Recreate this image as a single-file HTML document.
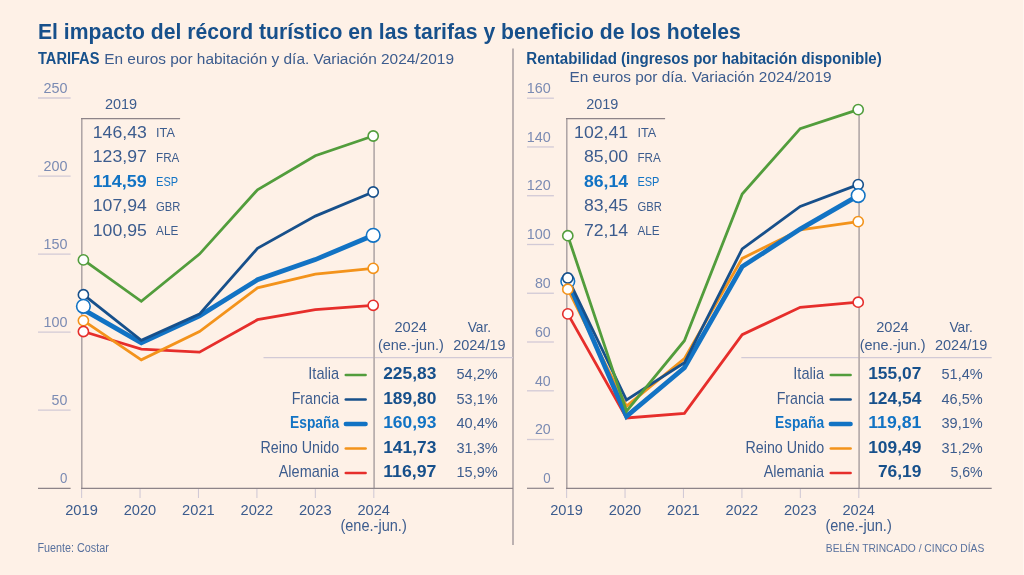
<!DOCTYPE html>
<html lang="es">
<head>
<meta charset="utf-8">
<title>El impacto del récord turístico en las tarifas y beneficio de los hoteles</title>
<style>
html,body{margin:0;padding:0;background:#fef1e7;}
body{width:1024px;height:575px;overflow:hidden;}
svg{display:block;font-family:"Liberation Sans",sans-serif;}
</style>
</head>
<body>
<svg width="1024" height="575" viewBox="0 0 1024 575">
<rect x="0" y="0" width="1024" height="575" fill="#fef1e7"/>
<rect x="1023" y="0" width="1" height="575" fill="#fff6f0"/>
<text x="38" y="38.7" font-size="22.3" fill="#17508b" font-weight="bold" textLength="702.8" lengthAdjust="spacingAndGlyphs">El impacto del récord turístico en las tarifas y beneficio de los hoteles</text>
<text x="38" y="63.5" font-size="15.6" fill="#17508b" font-weight="bold" textLength="61.4" lengthAdjust="spacingAndGlyphs">TARIFAS</text>
<text x="104.2" y="63.5" font-size="15.3" fill="#3c5c8e" textLength="349.8" lengthAdjust="spacingAndGlyphs">En euros por habitación y día. Variación 2024/2019</text>
<text x="526.3" y="63.5" font-size="15.6" fill="#17508b" font-weight="bold" textLength="355.5" lengthAdjust="spacingAndGlyphs">Rentabilidad (ingresos por habitación disponible)</text>
<text x="569.5" y="82.3" font-size="15.3" fill="#3c5c8e" textLength="262" lengthAdjust="spacingAndGlyphs">En euros por día. Variación 2024/2019</text>
<line x1="513" y1="48.6" x2="513" y2="545" stroke="#989094" stroke-width="1.3"/>
<line x1="38" y1="98" x2="70.6" y2="98" stroke="#d2cad6" stroke-width="1.3"/>
<text x="67.4" y="92.7" font-size="13.8" fill="#7b8bb3" text-anchor="end" textLength="24.0" lengthAdjust="spacingAndGlyphs">250</text>
<line x1="38" y1="176.05" x2="70.6" y2="176.05" stroke="#d2cad6" stroke-width="1.3"/>
<text x="67.4" y="170.75" font-size="13.8" fill="#7b8bb3" text-anchor="end" textLength="24.0" lengthAdjust="spacingAndGlyphs">200</text>
<line x1="38" y1="254.1" x2="70.6" y2="254.1" stroke="#d2cad6" stroke-width="1.3"/>
<text x="67.4" y="248.8" font-size="13.8" fill="#7b8bb3" text-anchor="end" textLength="24.0" lengthAdjust="spacingAndGlyphs">150</text>
<line x1="38" y1="332.15" x2="70.6" y2="332.15" stroke="#d2cad6" stroke-width="1.3"/>
<text x="67.4" y="326.85" font-size="13.8" fill="#7b8bb3" text-anchor="end" textLength="24.0" lengthAdjust="spacingAndGlyphs">100</text>
<line x1="38" y1="410.2" x2="70.6" y2="410.2" stroke="#d2cad6" stroke-width="1.3"/>
<text x="67.4" y="404.9" font-size="13.8" fill="#7b8bb3" text-anchor="end" textLength="15.8" lengthAdjust="spacingAndGlyphs">50</text>
<line x1="38" y1="488.3" x2="70.6" y2="488.3" stroke="#8d8489" stroke-width="1.2"/>
<text x="67.4" y="483.0" font-size="13.8" fill="#7b8bb3" text-anchor="end" textLength="7.4" lengthAdjust="spacingAndGlyphs">0</text>
<line x1="263.5" y1="357.6" x2="513" y2="357.6" stroke="#d2cad6" stroke-width="1.1"/>
<line x1="81.6" y1="488.3" x2="81.6" y2="498" stroke="#d2cad6" stroke-width="1.1"/>
<text x="81.5" y="514.8" font-size="15.3" fill="#3c5c8e" text-anchor="middle" textLength="32.6" lengthAdjust="spacingAndGlyphs">2019</text>
<line x1="140.04" y1="488.3" x2="140.04" y2="498" stroke="#d2cad6" stroke-width="1.1"/>
<text x="139.94" y="514.8" font-size="15.3" fill="#3c5c8e" text-anchor="middle" textLength="32.6" lengthAdjust="spacingAndGlyphs">2020</text>
<line x1="198.48" y1="488.3" x2="198.48" y2="498" stroke="#d2cad6" stroke-width="1.1"/>
<text x="198.38" y="514.8" font-size="15.3" fill="#3c5c8e" text-anchor="middle" textLength="32.6" lengthAdjust="spacingAndGlyphs">2021</text>
<line x1="256.92" y1="488.3" x2="256.92" y2="498" stroke="#d2cad6" stroke-width="1.1"/>
<text x="256.82" y="514.8" font-size="15.3" fill="#3c5c8e" text-anchor="middle" textLength="32.6" lengthAdjust="spacingAndGlyphs">2022</text>
<line x1="315.36" y1="488.3" x2="315.36" y2="498" stroke="#d2cad6" stroke-width="1.1"/>
<text x="315.26" y="514.8" font-size="15.3" fill="#3c5c8e" text-anchor="middle" textLength="32.6" lengthAdjust="spacingAndGlyphs">2023</text>
<line x1="373.8" y1="488.3" x2="373.8" y2="498" stroke="#d2cad6" stroke-width="1.1"/>
<text x="373.7" y="514.8" font-size="15.3" fill="#3c5c8e" text-anchor="middle" textLength="32.6" lengthAdjust="spacingAndGlyphs">2024</text>
<text x="373.6" y="530.9" font-size="15.9" fill="#3c5c8e" text-anchor="middle" textLength="66.3" lengthAdjust="spacingAndGlyphs">(ene.-jun.)</text>
<line x1="81.8" y1="118.0" x2="81.8" y2="488.3" stroke="#aca2a4" stroke-width="1.5"/>
<line x1="81.0" y1="118.6" x2="180.1" y2="118.6" stroke="#8d8489" stroke-width="1.2"/>
<line x1="374.1" y1="136.0" x2="374.1" y2="488.3" stroke="#b6abab" stroke-width="1.7"/>
<line x1="81.0" y1="488.3" x2="513" y2="488.3" stroke="#8d8489" stroke-width="1.2"/>
<text x="121.0" y="109.2" font-size="15.3" fill="#3c5c8e" text-anchor="middle" textLength="32.2" lengthAdjust="spacingAndGlyphs">2019</text>
<text x="146.8" y="137.6" font-size="17.1" fill="#3c5c8e" text-anchor="end" textLength="54" lengthAdjust="spacingAndGlyphs">146,43</text>
<text x="156.1" y="137.3" font-size="12.5" fill="#3c5c8e" textLength="18.8" lengthAdjust="spacingAndGlyphs">ITA</text>
<text x="146.8" y="162.1" font-size="17.1" fill="#3c5c8e" text-anchor="end" textLength="54" lengthAdjust="spacingAndGlyphs">123,97</text>
<text x="156.1" y="161.8" font-size="12.5" fill="#3c5c8e" textLength="23.3" lengthAdjust="spacingAndGlyphs">FRA</text>
<text x="146.8" y="186.6" font-size="17.1" fill="#1273c4" text-anchor="end" font-weight="bold" textLength="54" lengthAdjust="spacingAndGlyphs">114,59</text>
<text x="156.1" y="186.3" font-size="12.5" fill="#1273c4" textLength="22.0" lengthAdjust="spacingAndGlyphs">ESP</text>
<text x="146.8" y="211.1" font-size="17.1" fill="#3c5c8e" text-anchor="end" textLength="54" lengthAdjust="spacingAndGlyphs">107,94</text>
<text x="156.1" y="210.8" font-size="12.5" fill="#3c5c8e" textLength="24.4" lengthAdjust="spacingAndGlyphs">GBR</text>
<text x="146.8" y="235.6" font-size="17.1" fill="#3c5c8e" text-anchor="end" textLength="54" lengthAdjust="spacingAndGlyphs">100,95</text>
<text x="156.1" y="235.3" font-size="12.5" fill="#3c5c8e" textLength="22.2" lengthAdjust="spacingAndGlyphs">ALE</text>
<polyline points="83.4,331.5 141.3,349.1 199.5,352.1 257.5,319.7 315.3,309.6 373.2,305.3" fill="none" stroke="#e62e2b" stroke-width="2.8" stroke-linejoin="miter" stroke-linecap="butt"/>
<polyline points="83.4,320.6 141.3,359.8 199.5,331.6 257.5,287.8 315.3,274.1 373.2,268.3" fill="none" stroke="#f3931b" stroke-width="2.8" stroke-linejoin="miter" stroke-linecap="butt"/>
<polyline points="83.4,309.7 141.3,342.8 199.5,315.8 257.5,279.8 315.3,259.6 373.2,235.3" fill="none" stroke="#1273c4" stroke-width="4.8" stroke-linejoin="miter" stroke-linecap="butt"/>
<polyline points="83.4,294.7 141.3,340.3 199.5,314.1 257.5,248.3 315.3,216.1 373.2,192.0" fill="none" stroke="#17508b" stroke-width="2.8" stroke-linejoin="miter" stroke-linecap="butt"/>
<polyline points="83.4,259.9 141.3,301.3 199.5,254.1 257.5,189.8 315.3,155.8 373.2,136.0" fill="none" stroke="#529d3c" stroke-width="2.8" stroke-linejoin="miter" stroke-linecap="butt"/>
<circle cx="83.4" cy="259.9" r="5.1" fill="#ffffff" stroke="#529d3c" stroke-width="1.6"/>
<circle cx="83.4" cy="294.7" r="5.1" fill="#ffffff" stroke="#17508b" stroke-width="1.6"/>
<circle cx="83.4" cy="306.3" r="6.8" fill="#ffffff" stroke="#1273c4" stroke-width="1.6"/>
<circle cx="83.4" cy="320.6" r="5.1" fill="#ffffff" stroke="#f3931b" stroke-width="1.6"/>
<circle cx="83.4" cy="331.5" r="5.1" fill="#ffffff" stroke="#e62e2b" stroke-width="1.6"/>
<circle cx="373.2" cy="136.0" r="5.1" fill="#ffffff" stroke="#529d3c" stroke-width="1.6"/>
<circle cx="373.2" cy="192.0" r="5.1" fill="#ffffff" stroke="#17508b" stroke-width="1.6"/>
<circle cx="373.2" cy="268.3" r="5.1" fill="#ffffff" stroke="#f3931b" stroke-width="1.6"/>
<circle cx="373.2" cy="305.3" r="5.1" fill="#ffffff" stroke="#e62e2b" stroke-width="1.6"/>
<circle cx="373.2" cy="235.3" r="6.8" fill="#ffffff" stroke="#1273c4" stroke-width="1.6"/>
<text x="410.7" y="332.0" font-size="15.2" fill="#3c5c8e" text-anchor="middle" textLength="32.5" lengthAdjust="spacingAndGlyphs">2024</text>
<text x="410.9" y="350.0" font-size="15.5" fill="#3c5c8e" text-anchor="middle" textLength="66" lengthAdjust="spacingAndGlyphs">(ene.-jun.)</text>
<text x="479.4" y="332.0" font-size="15.2" fill="#3c5c8e" text-anchor="middle" textLength="23.5" lengthAdjust="spacingAndGlyphs">Var.</text>
<text x="479.4" y="350.0" font-size="15.2" fill="#3c5c8e" text-anchor="middle" textLength="52.5" lengthAdjust="spacingAndGlyphs">2024/19</text>
<text x="339.1" y="379.0" font-size="15.9" fill="#3c5c8e" text-anchor="end" textLength="30.8" lengthAdjust="spacingAndGlyphs">Italia</text>
<line x1="345.8" y1="375.0" x2="365.6" y2="375.0" stroke="#529d3c" stroke-width="2.6" stroke-linecap="round"/>
<text x="436.4" y="379.0" font-size="16.8" fill="#17508b" text-anchor="end" font-weight="bold" textLength="53.2" lengthAdjust="spacingAndGlyphs">225,83</text>
<text x="497.7" y="379.0" font-size="15.4" fill="#3c5c8e" text-anchor="end" textLength="41.2" lengthAdjust="spacingAndGlyphs">54,2%</text>
<text x="339.1" y="403.5" font-size="15.9" fill="#3c5c8e" text-anchor="end" textLength="47.4" lengthAdjust="spacingAndGlyphs">Francia</text>
<line x1="345.8" y1="399.5" x2="365.6" y2="399.5" stroke="#17508b" stroke-width="2.6" stroke-linecap="round"/>
<text x="436.4" y="403.5" font-size="16.8" fill="#17508b" text-anchor="end" font-weight="bold" textLength="53.2" lengthAdjust="spacingAndGlyphs">189,80</text>
<text x="497.7" y="403.5" font-size="15.4" fill="#3c5c8e" text-anchor="end" textLength="41.2" lengthAdjust="spacingAndGlyphs">53,1%</text>
<text x="339.1" y="428.0" font-size="15.9" fill="#1273c4" text-anchor="end" font-weight="bold" textLength="49" lengthAdjust="spacingAndGlyphs">España</text>
<line x1="345.8" y1="424.0" x2="365.6" y2="424.0" stroke="#1273c4" stroke-width="4.4" stroke-linecap="round"/>
<text x="436.4" y="428.0" font-size="16.8" fill="#1273c4" text-anchor="end" font-weight="bold" textLength="53.2" lengthAdjust="spacingAndGlyphs">160,93</text>
<text x="497.7" y="428.0" font-size="15.4" fill="#3c5c8e" text-anchor="end" textLength="41.2" lengthAdjust="spacingAndGlyphs">40,4%</text>
<text x="339.1" y="452.5" font-size="15.9" fill="#3c5c8e" text-anchor="end" textLength="78.6" lengthAdjust="spacingAndGlyphs">Reino Unido</text>
<line x1="345.8" y1="448.5" x2="365.6" y2="448.5" stroke="#f3931b" stroke-width="2.6" stroke-linecap="round"/>
<text x="436.4" y="452.5" font-size="16.8" fill="#17508b" text-anchor="end" font-weight="bold" textLength="53.2" lengthAdjust="spacingAndGlyphs">141,73</text>
<text x="497.7" y="452.5" font-size="15.4" fill="#3c5c8e" text-anchor="end" textLength="41.2" lengthAdjust="spacingAndGlyphs">31,3%</text>
<text x="339.1" y="477.0" font-size="15.9" fill="#3c5c8e" text-anchor="end" textLength="60.4" lengthAdjust="spacingAndGlyphs">Alemania</text>
<line x1="345.8" y1="473.0" x2="365.6" y2="473.0" stroke="#e62e2b" stroke-width="2.6" stroke-linecap="round"/>
<text x="436.4" y="477.0" font-size="16.8" fill="#17508b" text-anchor="end" font-weight="bold" textLength="53.2" lengthAdjust="spacingAndGlyphs">116,97</text>
<text x="497.7" y="477.0" font-size="15.4" fill="#3c5c8e" text-anchor="end" textLength="41.2" lengthAdjust="spacingAndGlyphs">15,9%</text>
<line x1="527" y1="98.2" x2="553.9" y2="98.2" stroke="#d2cad6" stroke-width="1.3"/>
<text x="550.7" y="92.9" font-size="13.8" fill="#7b8bb3" text-anchor="end" textLength="24.0" lengthAdjust="spacingAndGlyphs">160</text>
<line x1="527" y1="146.96" x2="553.9" y2="146.96" stroke="#d2cad6" stroke-width="1.3"/>
<text x="550.7" y="141.66" font-size="13.8" fill="#7b8bb3" text-anchor="end" textLength="24.0" lengthAdjust="spacingAndGlyphs">140</text>
<line x1="527" y1="195.72" x2="553.9" y2="195.72" stroke="#d2cad6" stroke-width="1.3"/>
<text x="550.7" y="190.42" font-size="13.8" fill="#7b8bb3" text-anchor="end" textLength="24.0" lengthAdjust="spacingAndGlyphs">120</text>
<line x1="527" y1="244.5" x2="553.9" y2="244.5" stroke="#d2cad6" stroke-width="1.3"/>
<text x="550.7" y="239.2" font-size="13.8" fill="#7b8bb3" text-anchor="end" textLength="24.0" lengthAdjust="spacingAndGlyphs">100</text>
<line x1="527" y1="293.25" x2="553.9" y2="293.25" stroke="#d2cad6" stroke-width="1.3"/>
<text x="550.7" y="287.95" font-size="13.8" fill="#7b8bb3" text-anchor="end" textLength="15.8" lengthAdjust="spacingAndGlyphs">80</text>
<line x1="527" y1="342.0" x2="553.9" y2="342.0" stroke="#d2cad6" stroke-width="1.3"/>
<text x="550.7" y="336.7" font-size="13.8" fill="#7b8bb3" text-anchor="end" textLength="15.8" lengthAdjust="spacingAndGlyphs">60</text>
<line x1="527" y1="390.8" x2="553.9" y2="390.8" stroke="#d2cad6" stroke-width="1.3"/>
<text x="550.7" y="385.5" font-size="13.8" fill="#7b8bb3" text-anchor="end" textLength="15.8" lengthAdjust="spacingAndGlyphs">40</text>
<line x1="527" y1="439.5" x2="553.9" y2="439.5" stroke="#d2cad6" stroke-width="1.3"/>
<text x="550.7" y="434.2" font-size="13.8" fill="#7b8bb3" text-anchor="end" textLength="15.8" lengthAdjust="spacingAndGlyphs">20</text>
<line x1="527" y1="488.3" x2="553.9" y2="488.3" stroke="#8d8489" stroke-width="1.2"/>
<text x="550.7" y="483.0" font-size="13.8" fill="#7b8bb3" text-anchor="end" textLength="7.4" lengthAdjust="spacingAndGlyphs">0</text>
<line x1="741.3" y1="357.6" x2="991.7" y2="357.6" stroke="#d2cad6" stroke-width="1.1"/>
<line x1="566.6" y1="488.3" x2="566.6" y2="498" stroke="#d2cad6" stroke-width="1.1"/>
<text x="566.5" y="514.8" font-size="15.3" fill="#3c5c8e" text-anchor="middle" textLength="32.6" lengthAdjust="spacingAndGlyphs">2019</text>
<line x1="625.04" y1="488.3" x2="625.04" y2="498" stroke="#d2cad6" stroke-width="1.1"/>
<text x="624.94" y="514.8" font-size="15.3" fill="#3c5c8e" text-anchor="middle" textLength="32.6" lengthAdjust="spacingAndGlyphs">2020</text>
<line x1="683.48" y1="488.3" x2="683.48" y2="498" stroke="#d2cad6" stroke-width="1.1"/>
<text x="683.38" y="514.8" font-size="15.3" fill="#3c5c8e" text-anchor="middle" textLength="32.6" lengthAdjust="spacingAndGlyphs">2021</text>
<line x1="741.92" y1="488.3" x2="741.92" y2="498" stroke="#d2cad6" stroke-width="1.1"/>
<text x="741.82" y="514.8" font-size="15.3" fill="#3c5c8e" text-anchor="middle" textLength="32.6" lengthAdjust="spacingAndGlyphs">2022</text>
<line x1="800.36" y1="488.3" x2="800.36" y2="498" stroke="#d2cad6" stroke-width="1.1"/>
<text x="800.26" y="514.8" font-size="15.3" fill="#3c5c8e" text-anchor="middle" textLength="32.6" lengthAdjust="spacingAndGlyphs">2023</text>
<line x1="858.8" y1="488.3" x2="858.8" y2="498" stroke="#d2cad6" stroke-width="1.1"/>
<text x="858.7" y="514.8" font-size="15.3" fill="#3c5c8e" text-anchor="middle" textLength="32.6" lengthAdjust="spacingAndGlyphs">2024</text>
<text x="858.6" y="530.9" font-size="15.9" fill="#3c5c8e" text-anchor="middle" textLength="66.3" lengthAdjust="spacingAndGlyphs">(ene.-jun.)</text>
<line x1="566.8" y1="118.0" x2="566.8" y2="488.3" stroke="#aca2a4" stroke-width="1.5"/>
<line x1="566.0" y1="118.6" x2="665.1" y2="118.6" stroke="#8d8489" stroke-width="1.2"/>
<line x1="859.1" y1="109.6" x2="859.1" y2="488.3" stroke="#b6abab" stroke-width="1.7"/>
<line x1="566.0" y1="488.3" x2="991.7" y2="488.3" stroke="#8d8489" stroke-width="1.2"/>
<text x="602.3" y="109.2" font-size="15.3" fill="#3c5c8e" text-anchor="middle" textLength="32.2" lengthAdjust="spacingAndGlyphs">2019</text>
<text x="628.1" y="137.6" font-size="17.1" fill="#3c5c8e" text-anchor="end" textLength="54" lengthAdjust="spacingAndGlyphs">102,41</text>
<text x="637.4" y="137.3" font-size="12.5" fill="#3c5c8e" textLength="18.8" lengthAdjust="spacingAndGlyphs">ITA</text>
<text x="628.1" y="162.1" font-size="17.1" fill="#3c5c8e" text-anchor="end" textLength="44.2" lengthAdjust="spacingAndGlyphs">85,00</text>
<text x="637.4" y="161.8" font-size="12.5" fill="#3c5c8e" textLength="23.3" lengthAdjust="spacingAndGlyphs">FRA</text>
<text x="628.1" y="186.6" font-size="17.1" fill="#1273c4" text-anchor="end" font-weight="bold" textLength="44.2" lengthAdjust="spacingAndGlyphs">86,14</text>
<text x="637.4" y="186.3" font-size="12.5" fill="#1273c4" textLength="22.0" lengthAdjust="spacingAndGlyphs">ESP</text>
<text x="628.1" y="211.1" font-size="17.1" fill="#3c5c8e" text-anchor="end" textLength="44.2" lengthAdjust="spacingAndGlyphs">83,45</text>
<text x="637.4" y="210.8" font-size="12.5" fill="#3c5c8e" textLength="24.4" lengthAdjust="spacingAndGlyphs">GBR</text>
<text x="628.1" y="235.6" font-size="17.1" fill="#3c5c8e" text-anchor="end" textLength="44.2" lengthAdjust="spacingAndGlyphs">72,14</text>
<text x="637.4" y="235.3" font-size="12.5" fill="#3c5c8e" textLength="22.2" lengthAdjust="spacingAndGlyphs">ALE</text>
<polyline points="567.8,313.9 626.5,418.0 684.4,413.3 742.2,334.7 800.2,307.3 858.2,302.2" fill="none" stroke="#e62e2b" stroke-width="2.8" stroke-linejoin="miter" stroke-linecap="butt"/>
<polyline points="567.8,289.2 626.5,406.2 684.4,358.6 742.2,258.4 800.2,229.8 858.2,221.6" fill="none" stroke="#f3931b" stroke-width="2.8" stroke-linejoin="miter" stroke-linecap="butt"/>
<polyline points="567.8,281.1 626.5,416.4 684.4,367.8 742.2,266.6 800.2,229.1 858.2,195.6" fill="none" stroke="#1273c4" stroke-width="4.8" stroke-linejoin="miter" stroke-linecap="butt"/>
<polyline points="567.8,278.0 626.5,400.0 684.4,362.8 742.2,248.9 800.2,206.4 858.2,184.6" fill="none" stroke="#17508b" stroke-width="2.8" stroke-linejoin="miter" stroke-linecap="butt"/>
<polyline points="567.8,235.7 626.5,411.2 684.4,340.7 742.2,194.0 800.2,128.6 858.2,109.6" fill="none" stroke="#529d3c" stroke-width="2.8" stroke-linejoin="miter" stroke-linecap="butt"/>
<circle cx="567.8" cy="235.7" r="5.1" fill="#ffffff" stroke="#529d3c" stroke-width="1.6"/>
<circle cx="567.8" cy="281.2" r="6.8" fill="#ffffff" stroke="#1273c4" stroke-width="1.6"/>
<circle cx="567.8" cy="278.0" r="5.1" fill="#ffffff" stroke="#17508b" stroke-width="1.6"/>
<circle cx="567.8" cy="289.2" r="5.1" fill="#ffffff" stroke="#f3931b" stroke-width="1.6"/>
<circle cx="567.8" cy="313.9" r="5.1" fill="#ffffff" stroke="#e62e2b" stroke-width="1.6"/>
<circle cx="858.2" cy="109.6" r="5.1" fill="#ffffff" stroke="#529d3c" stroke-width="1.6"/>
<circle cx="858.2" cy="184.6" r="5.1" fill="#ffffff" stroke="#17508b" stroke-width="1.6"/>
<circle cx="858.2" cy="221.6" r="5.1" fill="#ffffff" stroke="#f3931b" stroke-width="1.6"/>
<circle cx="858.2" cy="302.2" r="5.1" fill="#ffffff" stroke="#e62e2b" stroke-width="1.6"/>
<circle cx="858.2" cy="195.6" r="6.8" fill="#ffffff" stroke="#1273c4" stroke-width="1.6"/>
<text x="892.5" y="332.0" font-size="15.2" fill="#3c5c8e" text-anchor="middle" textLength="32.5" lengthAdjust="spacingAndGlyphs">2024</text>
<text x="892.7" y="350.0" font-size="15.5" fill="#3c5c8e" text-anchor="middle" textLength="66" lengthAdjust="spacingAndGlyphs">(ene.-jun.)</text>
<text x="961.2" y="332.0" font-size="15.2" fill="#3c5c8e" text-anchor="middle" textLength="23.5" lengthAdjust="spacingAndGlyphs">Var.</text>
<text x="961.2" y="350.0" font-size="15.2" fill="#3c5c8e" text-anchor="middle" textLength="52.5" lengthAdjust="spacingAndGlyphs">2024/19</text>
<text x="824.1" y="379.0" font-size="15.9" fill="#3c5c8e" text-anchor="end" textLength="30.8" lengthAdjust="spacingAndGlyphs">Italia</text>
<line x1="830.8" y1="375.0" x2="850.6" y2="375.0" stroke="#529d3c" stroke-width="2.6" stroke-linecap="round"/>
<text x="921.4" y="379.0" font-size="16.8" fill="#17508b" text-anchor="end" font-weight="bold" textLength="53.2" lengthAdjust="spacingAndGlyphs">155,07</text>
<text x="982.7" y="379.0" font-size="15.4" fill="#3c5c8e" text-anchor="end" textLength="41.2" lengthAdjust="spacingAndGlyphs">51,4%</text>
<text x="824.1" y="403.5" font-size="15.9" fill="#3c5c8e" text-anchor="end" textLength="47.4" lengthAdjust="spacingAndGlyphs">Francia</text>
<line x1="830.8" y1="399.5" x2="850.6" y2="399.5" stroke="#17508b" stroke-width="2.6" stroke-linecap="round"/>
<text x="921.4" y="403.5" font-size="16.8" fill="#17508b" text-anchor="end" font-weight="bold" textLength="53.2" lengthAdjust="spacingAndGlyphs">124,54</text>
<text x="982.7" y="403.5" font-size="15.4" fill="#3c5c8e" text-anchor="end" textLength="41.2" lengthAdjust="spacingAndGlyphs">46,5%</text>
<text x="824.1" y="428.0" font-size="15.9" fill="#1273c4" text-anchor="end" font-weight="bold" textLength="49" lengthAdjust="spacingAndGlyphs">España</text>
<line x1="830.8" y1="424.0" x2="850.6" y2="424.0" stroke="#1273c4" stroke-width="4.4" stroke-linecap="round"/>
<text x="921.4" y="428.0" font-size="16.8" fill="#1273c4" text-anchor="end" font-weight="bold" textLength="53.2" lengthAdjust="spacingAndGlyphs">119,81</text>
<text x="982.7" y="428.0" font-size="15.4" fill="#3c5c8e" text-anchor="end" textLength="41.2" lengthAdjust="spacingAndGlyphs">39,1%</text>
<text x="824.1" y="452.5" font-size="15.9" fill="#3c5c8e" text-anchor="end" textLength="78.6" lengthAdjust="spacingAndGlyphs">Reino Unido</text>
<line x1="830.8" y1="448.5" x2="850.6" y2="448.5" stroke="#f3931b" stroke-width="2.6" stroke-linecap="round"/>
<text x="921.4" y="452.5" font-size="16.8" fill="#17508b" text-anchor="end" font-weight="bold" textLength="53.2" lengthAdjust="spacingAndGlyphs">109,49</text>
<text x="982.7" y="452.5" font-size="15.4" fill="#3c5c8e" text-anchor="end" textLength="41.2" lengthAdjust="spacingAndGlyphs">31,2%</text>
<text x="824.1" y="477.0" font-size="15.9" fill="#3c5c8e" text-anchor="end" textLength="60.4" lengthAdjust="spacingAndGlyphs">Alemania</text>
<line x1="830.8" y1="473.0" x2="850.6" y2="473.0" stroke="#e62e2b" stroke-width="2.6" stroke-linecap="round"/>
<text x="921.4" y="477.0" font-size="16.8" fill="#17508b" text-anchor="end" font-weight="bold" textLength="43.5" lengthAdjust="spacingAndGlyphs">76,19</text>
<text x="982.7" y="477.0" font-size="15.4" fill="#3c5c8e" text-anchor="end" textLength="32.3" lengthAdjust="spacingAndGlyphs">5,6%</text>
<text x="37.4" y="552.0" font-size="12" fill="#58719e" textLength="71.4" lengthAdjust="spacingAndGlyphs">Fuente: Costar</text>
<text x="825.8" y="552.0" font-size="10.9" fill="#58719e" textLength="158.5" lengthAdjust="spacingAndGlyphs">BELÉN TRINCADO / CINCO DÍAS</text>
</svg>
</body>
</html>
